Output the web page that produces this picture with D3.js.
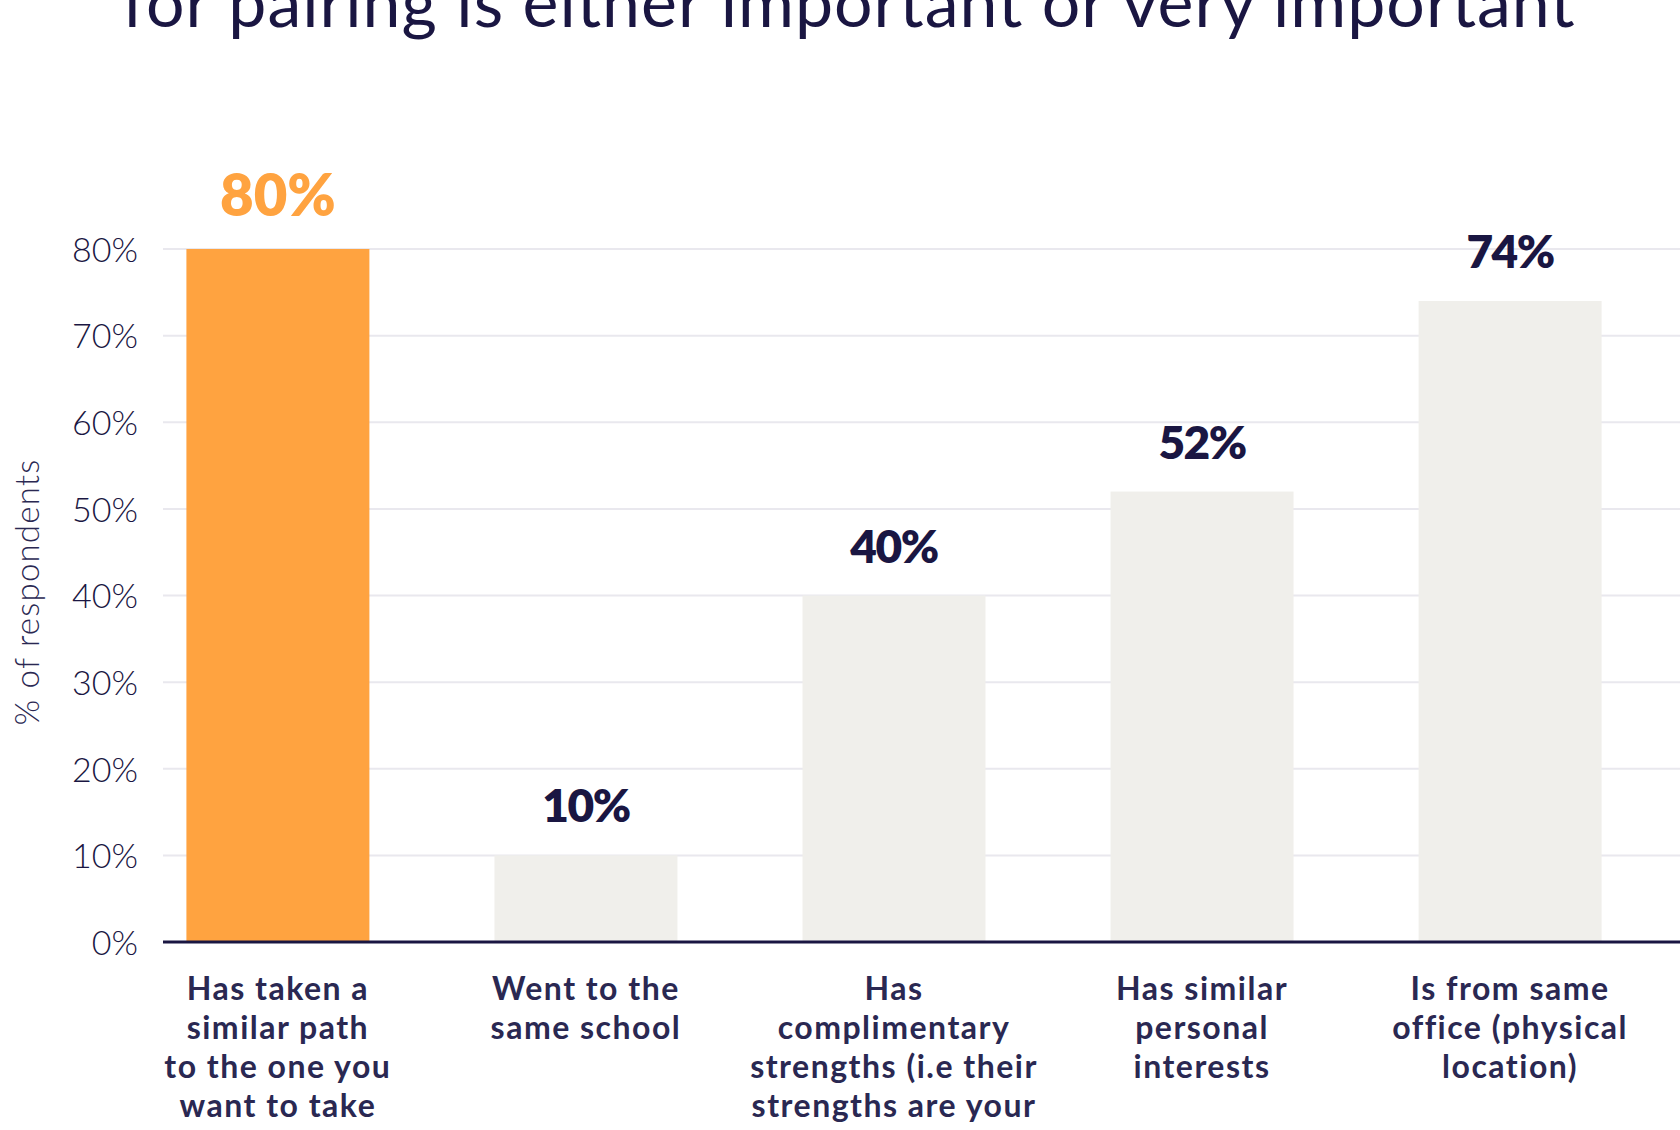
<!DOCTYPE html>
<html>
<head>
<meta charset="utf-8">
<script src="https://cdn.jsdelivr.net/npm/d3@7"></script>
<style>
    html, body { margin: 0; padding: 0; background: #ffffff; }
    svg { display: block; }
    text { fill: #1a1642; }
</style>
</head>
<body>
<div id="chart"></div>
<script>
const titleText = `for pairing is either important or very important`;
const yAxisTitle = `% of respondents`;
const categories = [`path`, `school`, `strengths`, `interests`, `office`];
const categoryLabels = [
    [`Has taken a`, `similar path`, `to the one you`, `want to take`],
    [`Went to the`, `same school`],
    [`Has`, `complimentary`, `strengths (i.e their`, `strengths are your`],
    [`Has similar`, `personal`, `interests`],
    [`Is from same`, `office (physical`, `location)`]
];
const values = [80, 10, 40, 52, 74];
const highlighted = [true, false, false, false, false];
const yTicks = [0, 10, 20, 30, 40, 50, 60, 70, 80];

let width = 1680, height = 1130;
let navy = `#1a1642`, labelNavy = `#2a2852`, orange = `#ffa340`, grey = `#f0efeb`, gridColor = `#e9e8ee`;
let font = `Lato, "Noto Sans", sans-serif`;

let svg = d3.select(`#chart`).append(`svg`)
    .attr(`width`, width)
    .attr(`height`, height);

let x = d3.scaleBand()
    .domain(categories)
    .range([163, 1625])
    .paddingInner(0.406)
    .paddingOuter(0.076);

let y = d3.scaleLinear()
    .domain([0, 80])
    .range([942, 249]);

// title (only the second line is inside the picture)
svg.append(`text`)
    .attr(`x`, 849)
    .attr(`y`, 27)
    .attr(`text-anchor`, `middle`)
    .style(`font-family`, font)
    .style(`font-size`, `68px`)
    .style(`letter-spacing`, `1px`)
    .style(`font-weight`, 400)
    .text(titleText);

// grid lines
svg.append(`g`)
    .selectAll(`line`)
    .data(yTicks.filter(d => d > 0))
    .enter().append(`line`)
    .attr(`x1`, 163)
    .attr(`x2`, width)
    .attr(`y1`, d => y(d))
    .attr(`y2`, d => y(d))
    .attr(`stroke`, gridColor)
    .attr(`stroke-width`, 2);

// y axis labels
let yAxis = svg.append(`g`)
    .attr(`transform`, `translate(138,0)`)
    .call(d3.axisLeft(y).tickValues(yTicks).tickSize(0).tickPadding(0).tickFormat(d => d + `%`));
yAxis.select(`.domain`).remove();
yAxis.selectAll(`text`)
    .attr(`dy`, `0.36em`)
    .style(`font-family`, font)
    .style(`font-size`, `34px`)
    .style(`font-weight`, 300)
    .style(`fill`, navy);

svg.append(`text`)
    .attr(`transform`, `translate(39,592) rotate(-90)`)
    .attr(`text-anchor`, `middle`)
    .style(`font-family`, font)
    .style(`font-size`, `33px`)
    .style(`letter-spacing`, `1.2px`)
    .style(`font-weight`, 300)
    .style(`fill`, labelNavy)
    .text(yAxisTitle);

// bars
svg.selectAll(`.bar`)
    .data(values)
    .enter().append(`rect`)
    .attr(`class`, `bar`)
    .attr(`x`, (d, i) => x(categories[i]))
    .attr(`y`, d => y(d))
    .attr(`width`, x.bandwidth())
    .attr(`height`, d => y(0) - y(d))
    .attr(`fill`, (d, i) => highlighted[i] ? orange : grey);

// baseline
svg.append(`line`)
    .attr(`x1`, 163)
    .attr(`x2`, width)
    .attr(`y1`, y(0))
    .attr(`y2`, y(0))
    .attr(`stroke`, navy)
    .attr(`stroke-width`, 3);

// value labels
svg.selectAll(`.valueLabel`)
    .data(values)
    .enter().append(`text`)
    .attr(`class`, `valueLabel`)
    .attr(`x`, (d, i) => x(categories[i]) + x.bandwidth() / 2)
    .attr(`y`, d => y(d) - 33)
    .attr(`text-anchor`, `middle`)
    .style(`font-family`, font)
    .style(`font-weight`, 800)
    .style(`font-size`, (d, i) => highlighted[i] ? `58px` : `46px`)
    .style(`letter-spacing`, (d, i) => highlighted[i] ? `0px` : `-1.5px`)
    .style(`fill`, (d, i) => highlighted[i] ? orange : navy)
    .text(d => d + `%`);

// category labels
let catLabel = svg.selectAll(`.catLabel`)
    .data(categoryLabels)
    .enter().append(`text`)
    .attr(`class`, `catLabel`)
    .attr(`text-anchor`, `middle`)
    .style(`font-family`, font)
    .style(`font-size`, `32px`)
    .style(`letter-spacing`, `1.5px`)
    .style(`font-weight`, 700)
    .style(`fill`, labelNavy);

catLabel.selectAll(`tspan`)
    .data((d, i) => d.map(line => ({ line: line, cat: categories[i] })))
    .enter().append(`tspan`)
    .attr(`x`, d => x(d.cat) + x.bandwidth() / 2)
    .attr(`y`, (d, j) => 1000 + j * 39)
    .text(d => d.line);
</script>
</body>
</html>
